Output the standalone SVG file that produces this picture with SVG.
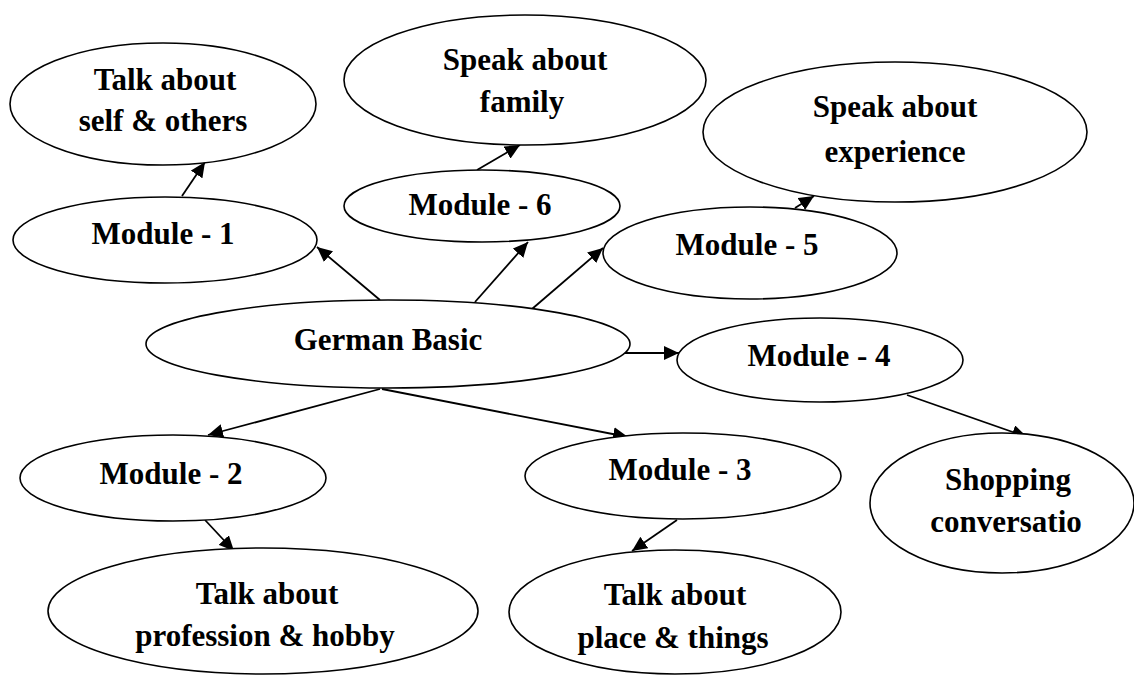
<svg xmlns="http://www.w3.org/2000/svg" width="1134" height="677" viewBox="0 0 1134 677">
<defs>
<marker id="ah" markerUnits="userSpaceOnUse" markerWidth="16" markerHeight="14" refX="15" refY="7" orient="auto">
<path d="M0,0 L15,7 L0,14 Z" fill="#000"/>
</marker>
<style>
ellipse{fill:#fff;stroke:#000;stroke-width:1.6}
text{font-family:"Liberation Serif","Times New Roman",serif;font-weight:bold;font-size:31px;fill:#000;text-anchor:middle}
#edges line{stroke:#000;stroke-width:1.8;marker-end:url(#ah)}
</style>
</defs>
<rect width="1134" height="677" fill="#fff"/>
<g id="edges">
<line x1="182" y1="196" x2="205" y2="162"/>
<line x1="380" y1="300" x2="317" y2="247"/>
<line x1="477" y1="170" x2="520" y2="145"/>
<line x1="475" y1="302" x2="528" y2="242"/>
<line x1="532" y1="309" x2="603" y2="248"/>
<line x1="795" y1="208" x2="814" y2="196"/>
<line x1="625" y1="353" x2="679" y2="353"/>
<line x1="380" y1="389" x2="208" y2="435"/>
<line x1="382" y1="389" x2="628" y2="437"/>
<line x1="205" y1="520" x2="234" y2="551"/>
<line x1="677" y1="520" x2="632" y2="551"/>
<line x1="907" y1="395" x2="1027" y2="437"/>
</g>
<g id="self"><ellipse cx="163" cy="104" rx="153" ry="61"/><text x="165" y="90">Talk about</text><text x="163" y="131">self &amp; others</text></g>
<g id="m1"><ellipse cx="165" cy="240" rx="152" ry="43"/><text x="163" y="244">Module - 1</text></g>
<g id="family"><ellipse cx="525" cy="80" rx="181" ry="65"/><text x="525" y="70">Speak about</text><text x="522" y="112">family</text></g>
<g id="m6"><ellipse cx="482" cy="206" rx="138" ry="36"/><text x="480" y="215">Module - 6</text></g>
<g id="experience"><ellipse cx="895" cy="132" rx="192" ry="70"/><text x="895" y="117">Speak about</text><text x="895" y="162">experience</text></g>
<g id="m5"><ellipse cx="750" cy="253" rx="147" ry="46"/><text x="747" y="255">Module - 5</text></g>
<g id="german"><ellipse cx="388" cy="344" rx="242" ry="44"/><text x="388" y="350">German Basic</text></g>
<g id="m4"><ellipse cx="820" cy="360" rx="143" ry="42"/><text x="819" y="366">Module - 4</text></g>
<g id="shopping"><ellipse cx="1002" cy="503" rx="132" ry="70"/><text x="1008" y="490">Shopping</text><text x="1006" y="532">conversatio</text></g>
<g id="m2"><ellipse cx="173" cy="478" rx="153" ry="43"/><text x="171" y="484">Module - 2</text></g>
<g id="m3"><ellipse cx="683" cy="476" rx="158" ry="43"/><text x="680" y="480">Module - 3</text></g>
<g id="profession"><ellipse cx="263" cy="611" rx="215" ry="63"/><text x="267" y="604">Talk about</text><text x="265" y="646">profession &amp; hobby</text></g>
<g id="place"><ellipse cx="675" cy="612" rx="166" ry="62"/><text x="675" y="605">Talk about</text><text x="673" y="648">place &amp; things</text></g>
</svg>
